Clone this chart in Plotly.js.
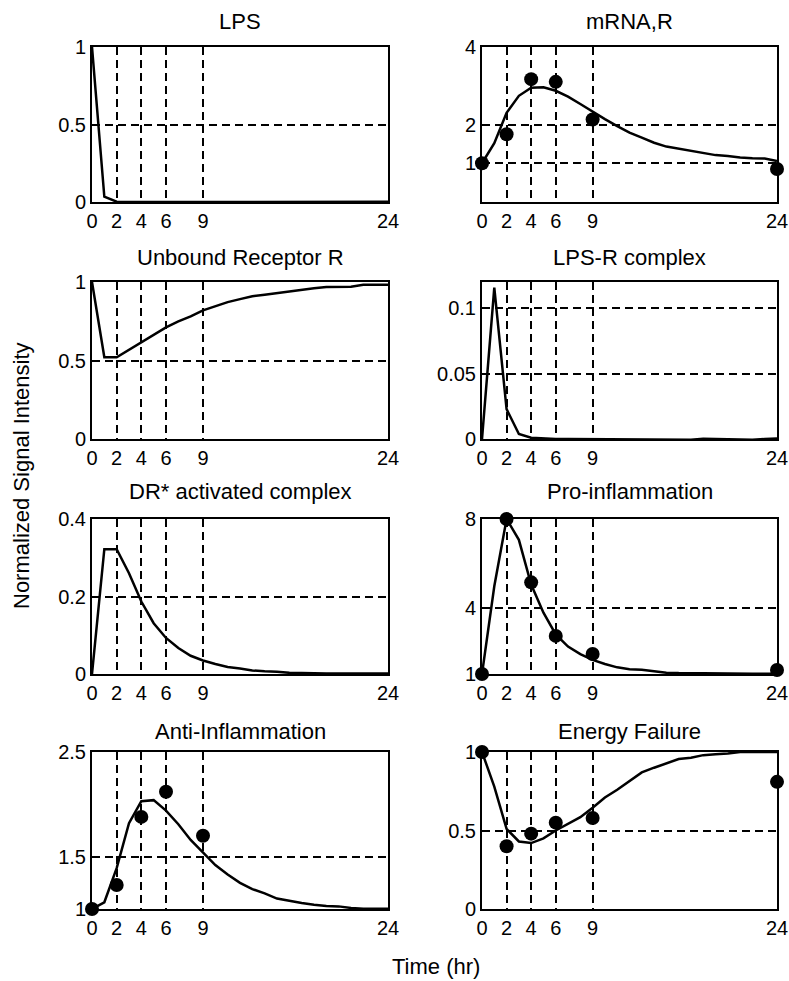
<!DOCTYPE html>
<html>
<head>
<meta charset="utf-8">
<script src="https://cdn.plot.ly/plotly-3.0.1.min.js"></script>
<style>html,body{margin:0;padding:0;background:#fff;}#chart{width:789px;height:981px;}</style>
</head>
<body>
<div id="chart"></div>
<script>
// ---- data ----
const hours = [0,1,2,3,4,5,6,7,8,9,10,11,12,13,14,15,16,17,18,19,20,21,22,23,24];
const sampleTimes = [0,2,4,6,9,24];
const xTickVals = [0,2,4,6,9,24];

const titles = ["LPS","mRNA,R","Unbound Receptor R","LPS-R complex","DR* activated complex","Pro-inflammation","Anti-Inflammation","Energy Failure"];

const lpsModel = [1,0.034,0.002,0,0,0,0,0,0,0,0,0,0,-0.003,0,0.001,0.001,0,-0.002,0,0.001,0.001,0,-0.001,0.001];
const mrnaModel = [1.0,1.52,2.3,2.74,2.95,2.96,2.87,2.72,2.53,2.33,2.14,1.96,1.79,1.66,1.53,1.43,1.37,1.32,1.26,1.21,1.19,1.15,1.13,1.12,1.06];
const mrnaData = [1.0,1.75,3.17,3.10,2.13,0.85];
const unboundModel = [1,0.521,0.521,0.568,0.615,0.662,0.711,0.749,0.781,0.819,0.845,0.872,0.891,0.909,0.919,0.93,0.94,0.949,0.96,0.968,0.968,0.97,0.983,0.983,0.983];
const lpsrModel = [0,0.1157,0.0228,0.0038,0.001,0.0003,0,0,0,0,0,0,0,0,0,0,0,-0.0005,0.0002,0,0,-0.0005,-0.0005,0,0.0003];
const drModel = [0,0.322,0.322,0.26,0.187,0.131,0.093,0.067,0.047,0.035,0.026,0.018,0.014,0.009,0.007,0.006,0.003,0.002,0.001,0.001,0.001,0.001,0.001,0.001,0.001];
const proModel = [1,4.96,8.0,7.06,5.04,3.77,2.79,2.24,1.9,1.64,1.45,1.3,1.22,1.19,1.12,1.06,1.04,1.03,1.02,1.02,1.01,1.01,1.01,1.01,1.01];
const proData = [1.0,8.0,5.14,2.72,1.9,1.18];
const antiModel = [1,1.064,1.39,1.82,2.03,2.04,1.94,1.81,1.66,1.54,1.42,1.33,1.25,1.19,1.15,1.1,1.076,1.057,1.041,1.029,1.025,1.01,1.003,1.003,1.003];
const antiData = [1.0,1.23,1.88,2.12,1.70];
const energyModel = [1,0.78,0.51,0.43,0.42,0.45,0.5,0.54,0.585,0.645,0.71,0.76,0.815,0.87,0.9,0.93,0.955,0.964,0.98,0.986,0.99,1,1,1,1];
const energyData = [1.0,0.4,0.48,0.55,0.58,0.81];

const yTicks = [[0,0.5,1],[1,2,4],[0,0.5,1],[0,0.05,0.1],[0,0.2,0.4],[1,4,8],[1,1.5,2.5],[0,0.5,1]];
const yTickText = [["0","0.5","1"],["1","2","4"],["0","0.5","1"],["0","0.05","0.1"],["0","0.2","0.4"],["1","4","8"],["1","1.5","2.5"],["0","0.5","1"]];
const yRanges = [[0,1],[0,4],[0,1],[0,0.12],[0,0.4],[1,8],[1,2.5],[0,1]];
const models = [lpsModel,mrnaModel,unboundModel,lpsrModel,drModel,proModel,antiModel,energyModel];
const dataSets = [null,mrnaData,null,null,null,proData,antiData,energyData];

// ---- layout geometry ----
const W = 789, H = 981;
const colPx = [[92,388],[482,777]];
const rowPx = [[47,202],[282,439],[519,674],[752,909]];
const titleCenterPx = [21,257,492,731];

const FONT = "Liberation Sans, Arial, Helvetica, sans-serif";
const traces = [];
const layout = {
  width: W, height: H,
  margin: {l:0,r:0,t:0,b:0},
  paper_bgcolor: "#fff", plot_bgcolor: "#fff",
  showlegend: false,
  font: {family: FONT, size: 20, color: "#000"},
  annotations: []
};

for (let i = 0; i < 8; i++) {
  const r = Math.floor(i/2), c = i % 2;
  const sfx = i === 0 ? "" : String(i+1);
  const xa = "x" + sfx, ya = "y" + sfx;
  const xd = [colPx[c][0]/W, colPx[c][1]/W];
  const yd = [1 - rowPx[r][1]/H, 1 - rowPx[r][0]/H];
  layout["xaxis" + sfx] = {
    domain: xd, anchor: ya, range: [0,24], tickvals: xTickVals, ticktext: xTickVals.map(String),
    showline: true, mirror: true, linecolor: "#000", linewidth: 2,
    showgrid: true, gridcolor: "#000", gridwidth: 2, griddash: "8px,5px",
    zeroline: false, ticks: "", tickfont: {size: 20, color: "#000", family: FONT}, fixedrange: true
  };
  layout["yaxis" + sfx] = {
    domain: yd, anchor: xa, range: yRanges[i], tickvals: yTicks[i], ticktext: yTickText[i],
    showline: true, mirror: true, linecolor: "#000", linewidth: 2,
    showgrid: true, gridcolor: "#000", gridwidth: 2, griddash: "8px,5px",
    zeroline: false, ticks: "", tickfont: {size: 20, color: "#000", family: FONT}, fixedrange: true
  };
  traces.push({
    x: hours, y: models[i], xaxis: xa, yaxis: ya, type: "scatter", mode: "lines",
    line: {color: "#000", width: 2.5}, cliponaxis: false, hoverinfo: "skip"
  });
  if (dataSets[i]) {
    traces.push({
      x: sampleTimes.slice(0, dataSets[i].length), y: dataSets[i], xaxis: xa, yaxis: ya,
      type: "scatter", mode: "markers", marker: {color: "#000", size: 14}, cliponaxis: false, hoverinfo: "skip"
    });
  }
  layout.annotations.push({
    text: titles[i], xref: "paper", yref: "paper",
    x: (colPx[c][0] + colPx[c][1]) / 2 / W, y: 1 - titleCenterPx[r] / H,
    xanchor: "center", yanchor: "middle", showarrow: false,
    font: {size: 22, color: "#000", family: FONT}
  });
}

layout.annotations.push({
  text: "Normalized Signal Intensity", xref: "paper", yref: "paper",
  x: 22/W, y: 1 - 476/H, xanchor: "center", yanchor: "middle", textangle: -90,
  showarrow: false, font: {size: 22, color: "#000", family: FONT}
});
layout.annotations.push({
  text: "Time (hr)", xref: "paper", yref: "paper",
  x: 436/W, y: 1 - 966/H, xanchor: "center", yanchor: "middle",
  showarrow: false, font: {size: 22, color: "#000", family: FONT}
});

Plotly.newPlot("chart", traces, layout, {displayModeBar: false});
</script>
</body>
</html>
